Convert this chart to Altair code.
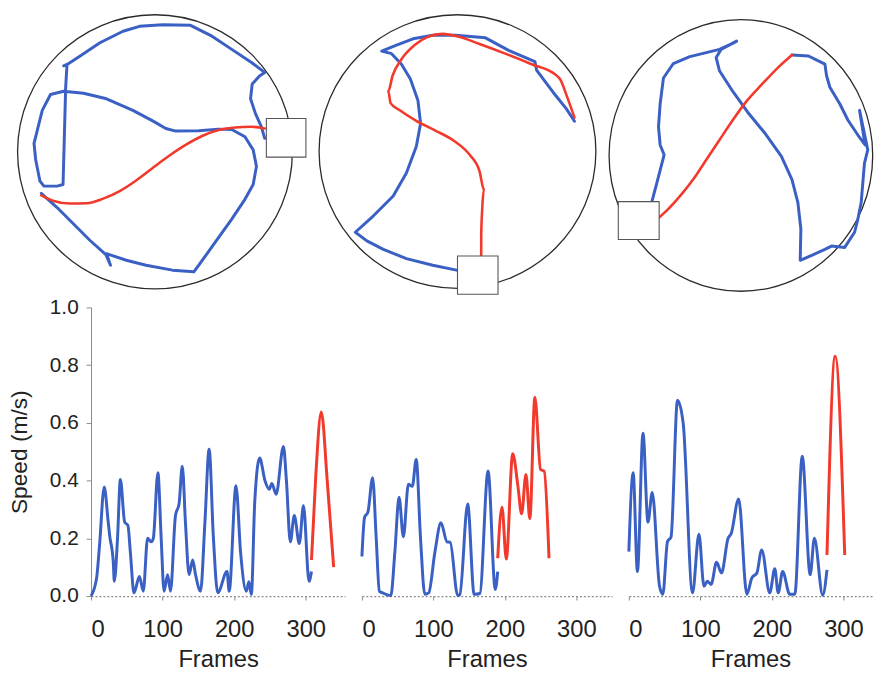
import altair as alt
import pandas as pd

BLUE = "#3a60c4"
RED = "#f23a2c"
FONT = "Liberation Sans"

# ---------------- Arena tracking data (camera units, y downward) ----------------
arena_cx = [467, 455, 445]
arena_cy = [446, 445, 457]
arena_rx = [417, 420, 400]
arena_ry = [416, 415, 412]

# start box (x1, x2, y1, y2)
box_x1 = [805, 455, 73]
box_x2 = [925, 578, 197]
box_y1 = [345, 762, 597]
box_y2 = [462, 878, 712]

blueA_x = [800, 790, 772, 757, 762, 785, 800, 760, 700, 640, 575, 490, 420, 370, 300, 240, 205, 190, 200, 196, 192, 188, 170, 130, 118, 105, 100, 110, 125, 150, 190, 250, 320, 400, 460, 500, 530, 600, 660, 700, 740, 765, 775, 765, 740, 700, 650, 600, 585, 520, 440, 380, 320, 332, 318, 270, 220, 170, 122]
blueA_y = [405, 370, 330, 285, 240, 215, 205, 175, 135, 95, 62, 60, 65, 80, 115, 155, 178, 185, 182, 250, 400, 545, 550, 550, 535, 470, 420, 380, 320, 272, 262, 268, 285, 320, 352, 375, 383, 382, 377, 378, 400, 440, 490, 545, 590, 650, 720, 790, 810, 805, 790, 775, 755, 790, 758, 715, 665, 615, 572]
redA_x = [122, 160, 210, 260, 310, 360, 410, 460, 510, 560, 610, 660, 710, 760, 800]
redA_y = [578, 595, 603, 602, 588, 565, 533, 495, 458, 425, 398, 380, 372, 370, 375]

blueB_x = [452, 380, 300, 230, 180, 145, 200, 260, 300, 330, 343, 335, 312, 285, 255, 225, 270, 320, 380, 450, 540, 610, 690, 695, 745, 785, 810]
blueB_y = [805, 790, 770, 742, 716, 690, 640, 580, 510, 430, 360, 290, 225, 180, 148, 140, 122, 103, 92, 92, 100, 138, 172, 198, 265, 315, 353]
redB_x = [527, 527, 530, 535, 522, 492, 445, 385, 330, 280, 252, 245, 258, 285, 325, 365, 410, 460, 520, 600, 680, 750, 768, 788, 810]
redB_y = [760, 700, 620, 560, 505, 455, 413, 380, 352, 320, 298, 262, 215, 165, 122, 97, 88, 97, 118, 148, 180, 210, 228, 280, 342]

blueC_x = [175, 190, 203, 212, 200, 195, 200, 210, 240, 290, 340, 380, 420, 432, 385, 370, 380, 420, 465, 520, 568, 600, 618, 627, 625, 660, 700, 720, 760, 790, 800, 810, 815, 820, 830, 805, 822, 800, 770, 745, 715, 705, 700, 650, 600]
blueC_y = [597, 540, 490, 455, 425, 370, 300, 222, 178, 157, 145, 135, 117, 110, 135, 160, 200, 262, 325, 392, 460, 530, 600, 680, 775, 760, 742, 732, 736, 690, 650, 600, 540, 480, 440, 320, 425, 395, 350, 300, 250, 215, 180, 155, 152]
redC_x = [600, 560, 510, 460, 420, 380, 340, 300, 262, 222, 197]
redC_y = [152, 188, 240, 295, 350, 410, 470, 530, 578, 622, 645]

# ---------------- Speed data ----------------
s1_blue_f = [0, 7.8, 12, 18.4, 24, 26, 31, 32.5, 37, 41, 47, 51.5, 55, 60, 67.6, 73, 79, 84, 87, 93.4, 98, 102, 107, 111, 118, 123, 127.5, 132, 137, 142, 146, 153, 159, 165, 171, 177, 190, 193, 202.5, 209, 217, 220.5, 224, 228.7, 235.6, 243, 249, 252.6, 258.6, 268.8, 273, 278.4, 284, 291, 296.8, 304.6, 308]
s1_blue_v = [0, 0.063, 0.18, 0.378, 0.256, 0.21, 0.12, 0.051, 0.2, 0.404, 0.256, 0.245, 0.15, 0.011, 0.068, 0.017, 0.2, 0.188, 0.2, 0.427, 0.2, 0.017, 0.074, 0.017, 0.28, 0.32, 0.45, 0.25, 0.074, 0.125, 0.074, 0.017, 0.25, 0.509, 0.2, 0.011, 0.085, 0.017, 0.382, 0.15, 0.017, 0.05, 0.006, 0.325, 0.478, 0.4, 0.37, 0.39, 0.353, 0.518, 0.4, 0.188, 0.279, 0.182, 0.313, 0.051, 0.085]
s1_red_f = [308, 314, 321.7, 330, 339]
s1_red_v = [0.125, 0.416, 0.638, 0.40, 0.10]

s2_blue_f = [0, 3.7, 8.3, 15, 20, 24.4, 29, 40.5, 46, 52, 58, 65, 70.5, 76, 82, 88, 93.5, 102, 110.6, 119, 123.5, 134, 137, 148, 157, 165, 176.5, 186.6, 190]
s2_blue_v = [0.137, 0.273, 0.29, 0.41, 0.2, 0.017, 0.011, 0.002, 0.15, 0.342, 0.205, 0.387, 0.38, 0.473, 0.2, 0.006, 0.011, 0.15, 0.254, 0.188, 0.186, 0.002, 0.005, 0.319, 0.006, 0.009, 0.433, 0.023, 0.085]
s2_red_f = [190, 196, 202, 211, 218, 223.5, 229.5, 235, 242, 250, 255, 261.8]
s2_red_v = [0.131, 0.308, 0.128, 0.493, 0.387, 0.285, 0.421, 0.268, 0.689, 0.438, 0.433, 0.131]

s3_blue_f = [0, 6, 12, 19.8, 26.7, 32.7, 42.9, 47.5, 54, 59, 68, 76, 89, 98, 105, 109.7, 115, 122.6, 129.5, 138.7, 143, 153.5, 165, 172, 179, 185.7, 197, 204, 208.8, 215, 225, 232, 242.4, 253.5, 259.4, 271, 277]
s3_blue_v = [0.154, 0.427, 0.085, 0.564, 0.256, 0.359, 0.034, 0.006, 0.188, 0.205, 0.678, 0.598, 0.011, 0.214, 0.034, 0.051, 0.04, 0.117, 0.08, 0.2, 0.216, 0.336, 0.006, 0.063, 0.08, 0.16, 0.011, 0.095, 0.011, 0.085, 0.006, 0.006, 0.484, 0.074, 0.2, 0.003, 0.091]
s3_red_f = [277, 288.5, 301.8]
s3_red_v = [0.142, 0.831, 0.142]

x_tick_values = [0, 100, 200, 300]
y_tick_values = [0.0, 0.2, 0.4, 0.6, 0.8, 1.0]

# ---------------- Layout parameters ----------------
ROW_H = 292
COL_W = [257, 253, 246]
COL_GAP = 17
ROW_GAP = 6
TOP_XDOM = [[273, 273 + 3 * 257], [165, 165 + 3 * 253], [105, 105 + 3 * 246]]
TOP_YDOM = [24, 24 + 3 * ROW_H]
SPEED_XMAX = [355, 350, 340]


def arena_panel(i, bx, by, rx_, ry_):
    xs = alt.Scale(domain=TOP_XDOM[i], nice=False, zero=False)
    ys = alt.Scale(domain=TOP_YDOM, nice=False, zero=False, reverse=True)
    px_per_unit = COL_W[i] / (TOP_XDOM[i][1] - TOP_XDOM[i][0])
    ratio = arena_ry[i] / arena_rx[i]
    path = f"M -1 0 A 1 {ratio:.4f} 0 1 1 1 0 A 1 {ratio:.4f} 0 1 1 -1 0 Z"
    diam = 2 * arena_rx[i] * px_per_unit

    circ_df = pd.DataFrame({"x": [arena_cx[i]], "y": [arena_cy[i]]})
    circle = alt.Chart(circ_df).mark_point(
        shape=path, size=diam * diam, filled=False, stroke="#2a2a2a",
        strokeWidth=1.3, opacity=1
    ).encode(x=alt.X("x:Q", scale=xs, axis=None), y=alt.Y("y:Q", scale=ys, axis=None))

    bdf = pd.DataFrame({"x": bx, "y": by, "o": list(range(len(bx)))})
    blue = alt.Chart(bdf).mark_line(color=BLUE, strokeWidth=3, strokeJoin="round", strokeCap="round").encode(
        x=alt.X("x:Q", scale=xs, axis=None), y=alt.Y("y:Q", scale=ys, axis=None), order="o:Q")
    rdf = pd.DataFrame({"x": rx_, "y": ry_, "o": list(range(len(rx_)))})
    red = alt.Chart(rdf).mark_line(color=RED, strokeWidth=2.6, strokeJoin="round", strokeCap="round",
                                   interpolate="monotone").encode(
        x=alt.X("x:Q", scale=xs, axis=None), y=alt.Y("y:Q", scale=ys, axis=None), order="o:Q")

    sq_df = pd.DataFrame({"x1": [box_x1[i]], "x2": [box_x2[i]], "y1": [box_y1[i]], "y2": [box_y2[i]]})
    square = alt.Chart(sq_df).mark_rect(fill="white", stroke="#555", strokeWidth=1.1).encode(
        x=alt.X("x1:Q", scale=xs, axis=None), x2="x2:Q",
        y=alt.Y("y1:Q", scale=ys, axis=None), y2="y2:Q")

    return alt.layer(circle, blue, red, square).properties(width=COL_W[i], height=ROW_H)


def speed_panel(i, bf, bv, rf, rv, show_y):
    xs = alt.Scale(domain=[0, SPEED_XMAX[i]], nice=False, zero=False)
    ysc = alt.Scale(domain=[0, 1], nice=False)
    xaxis = alt.Axis(values=x_tick_values, title="Frames", format="d")
    if show_y:
        yaxis = alt.Axis(values=y_tick_values, title="Speed (m/s)", format=".1f",
                         domain=True, domainColor="#8a8a8a", domainDash=[], ticks=True,
                         tickSize=5, labelFontSize=21, titleFontSize=23,
                         labelPadding=8, titlePadding=18)
    else:
        yaxis = None
    bdf = pd.DataFrame({"frame": bf, "speed": bv})
    rdf = pd.DataFrame({"frame": rf, "speed": rv})
    blue = alt.Chart(bdf).mark_line(color=BLUE, strokeWidth=3, interpolate="monotone").encode(
        x=alt.X("frame:Q", scale=xs, axis=xaxis),
        y=alt.Y("speed:Q", scale=ysc, axis=yaxis))
    red = alt.Chart(rdf).mark_line(color=RED, strokeWidth=3, interpolate="monotone").encode(
        x=alt.X("frame:Q", scale=xs),
        y=alt.Y("speed:Q", scale=ysc))
    return alt.layer(blue, red).properties(width=COL_W[i], height=ROW_H)


chart = alt.concat(
    arena_panel(0, blueA_x, blueA_y, redA_x, redA_y),
    arena_panel(1, blueB_x, blueB_y, redB_x, redB_y),
    arena_panel(2, blueC_x, blueC_y, redC_x, redC_y),
    speed_panel(0, s1_blue_f, s1_blue_v, s1_red_f, s1_red_v, True),
    speed_panel(1, s2_blue_f, s2_blue_v, s2_red_f, s2_red_v, False),
    speed_panel(2, s3_blue_f, s3_blue_v, s3_red_f, s3_red_v, False),
    columns=3, spacing={"row": ROW_GAP, "column": COL_GAP}, bounds="flush"
).properties(
    padding=0, background="white"
).configure_view(stroke=None).configure_axis(
    grid=False, labelFont=FONT, titleFont=FONT, labelColor="#222", titleColor="#222",
    titleFontWeight="normal", domainColor="#8a8a8a", tickColor="#8a8a8a"
).configure_axisX(
    domainDash=[2, 2], domainWidth=1.2, tickSize=4, labelFontSize=24, titleFontSize=24,
    labelPadding=18, titlePadding=6
)

chart.save("out.html", embed_options={"renderer": "svg", "actions": False})
